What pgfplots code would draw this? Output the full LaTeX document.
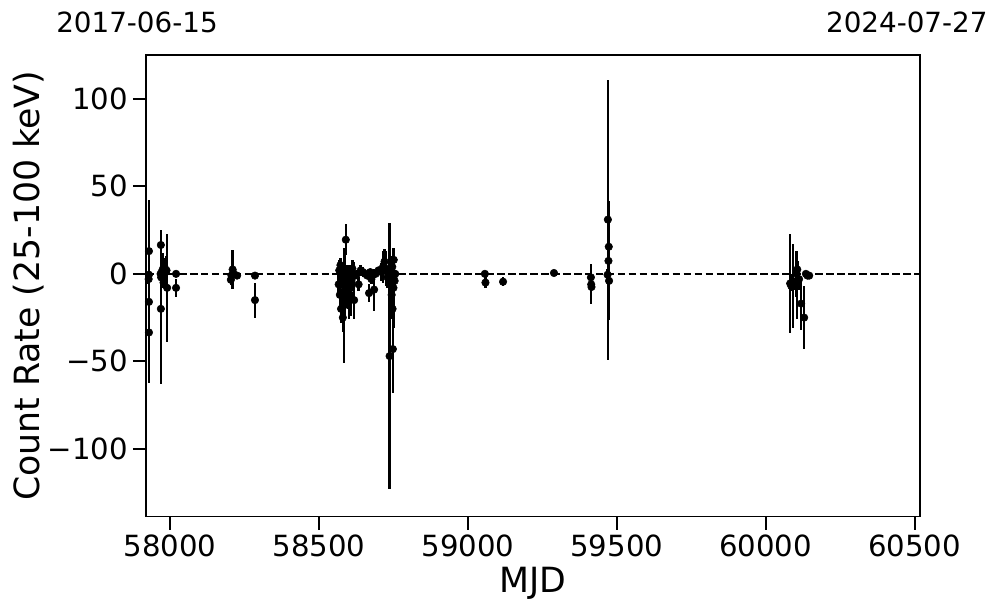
\documentclass[border=0pt]{standalone}
\usepackage{fontspec}
\setmainfont{DejaVu Sans}
\usepackage{pgfplots}
\usepackage{pgfplotstable}
\pgfplotsset{compat=1.18}

% MJD, count rate, error
\pgfplotstableread{
x y e
57929 13 29
57929 -33.5 29
57929 -16 4
57929 -0.5 2
57928 -3 3
57969 16.5 8.5
57969 -20 43
57968 0 3
57970 -2 4
57972 1 3
57975 2.5 9.5
57978 -5 3
57981 4 5
57985 1 3
57988 2 8
57990 -8 30.7
58020 0 1
58020 -8 5
58204 -3.4 3
58206 -1 2
58210 2.5 11
58212 0.6 2
58225 -1 1.5
58285 -1 1
58285 -15 10
58566 -6 8
58568 2 6
58570 -12 10
58572 5 4
58574 -20 8
58576 -3 5
58578 0 3
58580 -25 8
58582 -10 12
58584 -18 33
58586 3 8
58588 -15 10
58590 19.5 9
58592 -5 10
58594 1 4
58597 -8 12
58600 -14 12
58603 2 3
58606 -12 12
58609 -4 6
58612 3 5
58615 -1 8
58618 -15 11
58622 -1 2
58627 0 2
58633 -6 4
58640 2 3
58648 1 3
58655 0 2
58662 -1 2
58668 -11 5
58672 1 2
58676 -3 3
58685 -9 12
58690 0 2
58700 2 2
58710 1 5
58715 4 9
58720 7 7
58725 3 10
58730 -2 6
58735 0 4
58737 -47 76
58740 2 5
58742 -5 8
58744 -12 10
58745 -2 12
58746 4 6
58747 -20 6
58748 -43 25
58750 -8 23
58751 8 7
58752 -1 3
58754 -4 4
58756 0 2
59057 0 1
59059 -5 3
59118 -4.5 2.5
59289 0.5 1
59413 -2 2
59414 -6 11.5
59415 -7.5 2
59470 31 80
59472 7.4 34
59473 15.5 5
59469 -0.5 3
59474 -4 5
60082 -5.5 28.5
60086 -7 3
60090 -4 4
60092 -7 24
60100 -6 3
60104 0 13
60105 -6.5 19.5
60106 2.5 5
60112 -3 6
60119 -17 15
60129 -25 18
60135 0 1
60140 -1 2
60146 -1 1.5
}\lc

\begin{document}
\begin{tikzpicture}
\begin{axis}[
    scale only axis,
    width=557.3pt, height=332.6pt,
    xmin=57919, xmax=60518,
    ymin=-138.9, ymax=125.1,
    axis line style={line width=0.8pt},
    scaled x ticks=false, scaled y ticks=false,
    xtick={58000,58500,59000,59500,60000,60500},
    xticklabels={58000,58500,59000,59500,60000,60500},
    ytick={-100,-50,0,50,100},
    yticklabels={−100,−50,0,50,100},
    tick align=outside,
    xtick pos=bottom, ytick pos=left,
    major tick length=9.4pt,
    every tick/.style={line width=1.5pt, black},
    minor tick num=0,
    tick label style={font=\fontsize{21}{25}\selectfont},
    label style={font=\fontsize{25}{30}\selectfont},
    xlabel={MJD},
    ylabel={Count Rate (25-100 keV)},
    xlabel style={at={(rel axis cs:0.5,-0.143)}, anchor=center},
    ylabel style={at={(rel axis cs:-0.152,0.5)}, anchor=center},
    clip=false,
]
\addplot[black, line width=1.2pt, dash pattern=on 5.5pt off 2.4pt] coordinates {(57919,0) (60518,0)};
\addplot[only marks, mark=*, mark size=2.7pt, black,
    error bars/.cd, y dir=both, y explicit, error mark=none,
    error bar style={line width=1.8pt, black}]
    table[x=x, y=y, y error=e] {\lc};
\node[anchor=base, font=\fontsize{20}{24}\selectfont] at (rel axis cs:-0.0116,1.0476) {2017-06-15};
\node[anchor=base, font=\fontsize{20}{24}\selectfont] at (rel axis cs:0.983,1.0476) {2024-07-27};
\coordinate (bl) at (rel axis cs:-0.1886,-0.2078);
\coordinate (tr) at (rel axis cs:1.0995,1.119);
\end{axis}
\pgfresetboundingbox
\path (bl) rectangle (tr);
\end{tikzpicture}
\end{document}
